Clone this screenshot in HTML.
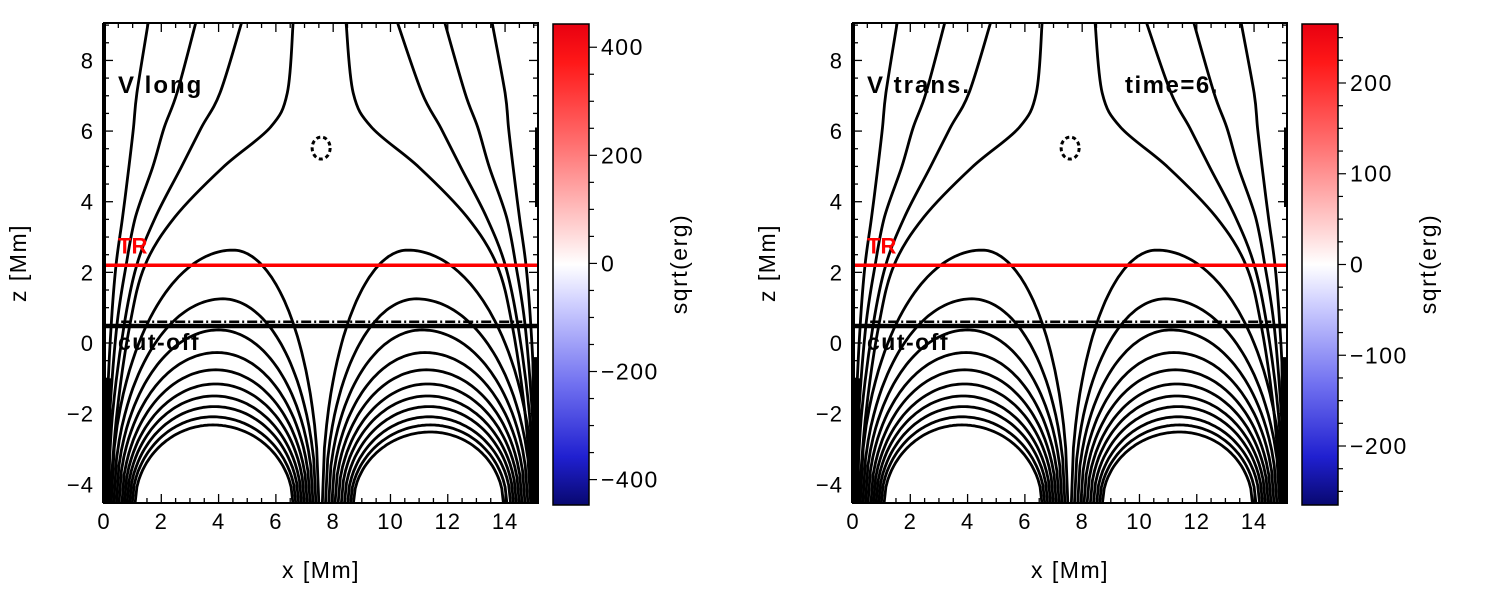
<!DOCTYPE html>
<html><head><meta charset="utf-8">
<style>
html,body{margin:0;padding:0;background:#fff;}
svg{display:block;font-family:"Liberation Sans",sans-serif;}
</style></head>
<body>
<svg id="fig" width="1500" height="600" viewBox="0 0 1500 600">
<defs>
<linearGradient id="cbgrad" x1="0" y1="0" x2="0" y2="1">
<stop offset="0" stop-color="#e80010"/><stop offset="0.08" stop-color="#ff1818"/>
<stop offset="0.25" stop-color="#ff7070"/><stop offset="0.42" stop-color="#ffd0d0"/>
<stop offset="0.5" stop-color="#ffffff"/><stop offset="0.58" stop-color="#d0d0ff"/>
<stop offset="0.75" stop-color="#7070f0"/><stop offset="0.9" stop-color="#2020d0"/>
<stop offset="1" stop-color="#080870"/>
</linearGradient>
</defs>
</svg>
<script>
// ---- data (data units: x [Mm], z [Mm]) ----
const xTicks = [0,2,4,6,8,10,12,14];
const zTicks = [-4,-2,0,2,4,6,8];
const trHeight = 2.2;
const cutoffHeight = 0.48;
const leftArchApex = [2.63,1.25,0.37,-0.27,-0.76,-1.16,-1.5,-1.8,-2.09,-2.32];
const leftArchPeakX = [4.5,4.15,4.0,3.95,3.9,3.9,3.85,3.85,3.8,3.8];
const leftArchFootL = [0.25,0.34,0.43,0.52,0.62,0.71,0.8,0.89,0.98,1.08];
const leftArchFootR = [7.5,7.4,7.3,7.2,7.1,7.0,6.9,6.8,6.7,6.6];
const rightArchApex = [2.63,1.25,0.37,-0.27,-0.76,-1.16,-1.5,-1.8,-2.09,-2.32,-2.52];
const rightArchPeakX = [10.6,10.9,11.1,11.2,11.25,11.3,11.3,11.35,11.35,11.4,11.4];
const rightArchFootL = [7.62,7.73,7.84,7.95,8.06,8.17,8.28,8.39,8.5,8.6,8.7];
const rightArchFootR = [15.0,14.9,14.8,14.7,14.6,14.5,14.4,14.3,14.2,14.07,13.95];
const openZ = [-4.53,-2,0.5,2.2,3.57,4.98,6.1,7.08,9.06];
const openLeft1 = [0.02,0.1,0.25,0.42,0.65,0.87,1.03,1.15,1.54];
const openLeft2 = [0.06,0.2,0.45,0.77,1.1,1.7,2.1,2.55,3.2];
const openLeft3 = [0.12,0.3,0.7,1.14,1.8,2.7,3.4,4.05,4.8];
const openLeft4 = [0.2,0.45,0.9,1.43,2.48,4.16,5.8,6.4,6.6];
const openRight1 = [15.13,15.05,14.9,14.73,14.5,14.28,14.12,14.0,13.55];
const openRight2 = [15.09,14.95,14.7,14.38,14.05,13.45,13.05,12.6,11.9];
const openRight3 = [15.03,14.85,14.45,14.01,13.35,12.45,11.75,11.1,10.25];
const openRight4 = [14.95,14.7,14.25,13.72,12.67,10.99,9.35,8.7,8.45];
const nullPoint = [7.58,5.52];
const cb1Ticks = [400,200,0,-200,-400];
const cb1Range = [-447,443];
const cb2Ticks = [200,100,0,-100,-200];
const cb2Range = [-265,265];

const NS = 'http://www.w3.org/2000/svg';
const svg = document.getElementById('fig');
function mk(tag, attrs, parent){const e=document.createElementNS(NS,tag);for(const k in attrs)e.setAttribute(k,attrs[k]);(parent||svg).appendChild(e);return e;}

const XMIN=0,XMAX=15.15,ZMIN=-4.53,ZMAX=9.06,TOP=23,BOT=503,W=434;

function catmull(pts){
  let d='M'+pts[0][0].toFixed(1)+','+pts[0][1].toFixed(1);
  for(let i=0;i<pts.length-1;i++){
    const p0=pts[Math.max(0,i-1)],p1=pts[i],p2=pts[i+1],p3=pts[Math.min(pts.length-1,i+2)];
    const c1=[p1[0]+(p2[0]-p0[0])/6,p1[1]+(p2[1]-p0[1])/6];
    const c2=[p2[0]-(p3[0]-p1[0])/6,p2[1]-(p3[1]-p1[1])/6];
    d+=' C'+c1[0].toFixed(1)+','+c1[1].toFixed(1)+' '+c2[0].toFixed(1)+','+c2[1].toFixed(1)+' '+p2[0].toFixed(1)+','+p2[1].toFixed(1);
  }
  return d;
}

function panel(idx, L, cbL, cbTicks, cbRange, minorStep, label, extra){
  const sx=x=>L+(x-XMIN)/(XMAX-XMIN)*W;
  const sz=z=>BOT-(z-ZMIN)/(ZMAX-ZMIN)*(BOT-TOP);
  const g=mk('g',{});
  
  
  const clipId='clip'+idx;
  const cp=mk('clipPath',{id:clipId},g);
  mk('rect',{x:L,y:TOP,width:W,height:BOT-TOP},cp);
  const lines=mk('g',{'clip-path':'url(#'+clipId+')',fill:'none',stroke:'#000','stroke-width':2.8},g);
  
  
  function arches(apex,peak,fl,fr,name){
    for(let i=0;i<apex.length;i++){
      const pts=[];const zb=ZMIN-0.05,h=apex[i];
      const N=40;
      for(let k=0;k<=N;k++){const u=1-k/N;const x=peak[i]-(peak[i]-fl[i])*u;pts.push([sx(x),sz(zb+(h-zb)*Math.sqrt(1-u*u))]);}
      for(let k=1;k<=N;k++){const u=k/N;const x=peak[i]+(fr[i]-peak[i])*u;pts.push([sx(x),sz(zb+(h-zb)*Math.sqrt(1-u*u))]);}
      const p=mk('polyline',{points:pts.map(q=>q[0].toFixed(1)+','+q[1].toFixed(1)).join(' ')},lines);
      
      
    }
  }
  arches(leftArchApex,leftArchPeakX,leftArchFootL,leftArchFootR,'left-arch');
  arches(rightArchApex,rightArchPeakX,rightArchFootL,rightArchFootR,'right-arch');
  const opens=[openLeft1,openLeft2,openLeft3,openLeft4,openRight1,openRight2,openRight3,openRight4];
  opens.forEach((arr,i)=>{
    const pts=arr.map((x,k)=>[sx(x),sz(openZ[k])]);
    const p=mk('path',{d:catmull(pts)},lines);
    
    
  });
  let e=mk('line',{x1:sx(0.1),y1:sz(ZMIN),x2:sx(0.15),y2:sz(-1),'stroke-width':7},lines);
  
  e=mk('line',{x1:sx(15.05),y1:sz(ZMIN),x2:sx(15.05),y2:sz(-0.4),'stroke-width':7},lines);
  
  e=mk('line',{x1:sx(XMAX)-1,y1:sz(6.1),x2:sx(XMAX)-1,y2:sz(3.85),stroke:'#000','stroke-width':4},g);
  
  e=mk('ellipse',{cx:sx(nullPoint[0]),cy:sz(nullPoint[1]),rx:9,ry:11,fill:'none',stroke:'#000','stroke-width':3,'stroke-dasharray':'4,3'},g);
  
  e=mk('line',{x1:sx(0.6),y1:sz(0.6),x2:sx(14.6),y2:sz(0.6),stroke:'#000','stroke-width':2.5,'stroke-dasharray':'10,3,2,3'},g);
  
  e=mk('line',{x1:L,y1:sz(trHeight),x2:L+W,y2:sz(trHeight),stroke:'#ff0000','stroke-width':3.5},g);
  
  e=mk('line',{x1:L,y1:sz(cutoffHeight),x2:L+W,y2:sz(cutoffHeight),stroke:'#000','stroke-width':4.5},g);
  
  e=mk('text',{x:L+14,y:sz(trHeight)-12,fill:'#ff0000','font-size':22,'font-weight':'bold'},g);e.textContent='TR';
  
  e=mk('text',{x:L+14,y:sz(cutoffHeight)+24,fill:'#000','font-size':23,'font-weight':'bold','letter-spacing':1.5},g);e.textContent='cut-off';
  
  e=mk('text',{x:L+14,y:93,fill:'#000','font-size':24,'font-weight':'bold','letter-spacing':2},g);e.textContent=label;
  
  if(extra){e=mk('text',{x:L+272,y:93,fill:'#000','font-size':24,'font-weight':'bold','letter-spacing':1.5},g);e.textContent=extra;
  }
  e=mk('rect',{x:L,y:TOP,width:W,height:BOT-TOP,fill:'none',stroke:'#000','stroke-width':2},g);
  
  e=mk('line',{x1:L,y1:TOP,x2:L,y2:BOT,stroke:'#000','stroke-width':4},g);
  const tk=mk('g',{stroke:'#000','stroke-width':1.3},g);
  
  for(let x=0;x<=XMAX+1e-6;x+=0.5){const major=Math.abs(x/2-Math.round(x/2))<1e-6;const len=major?9:5;
    mk('line',{x1:sx(x),y1:BOT,x2:sx(x),y2:BOT-len},tk);mk('line',{x1:sx(x),y1:TOP,x2:sx(x),y2:TOP+len},tk);}
  for(let z=-4.5;z<=ZMAX;z+=0.5){const major=Math.abs(z/2-Math.round(z/2))<1e-6;const len=major?9:5;
    mk('line',{x1:L,y1:sz(z),x2:L+len,y2:sz(z)},tk);mk('line',{x1:L+W,y1:sz(z),x2:L+W-len,y2:sz(z)},tk);}
  xTicks.forEach(v=>{const t=mk('text',{x:sx(v),y:529,'text-anchor':'middle','font-size':22,fill:'#000','letter-spacing':1},g);t.textContent=v;
    });
  zTicks.forEach(v=>{const t=mk('text',{x:L-10,y:sz(v)+8,'text-anchor':'end','font-size':22,fill:'#000','letter-spacing':1},g);t.textContent=(v<0?'\u2212'+(-v):v);
    });
  e=mk('text',{x:L+W/2,y:578,'text-anchor':'middle','font-size':23,fill:'#000','letter-spacing':1.5},g);e.textContent='x [Mm]';
  
  e=mk('text',{x:0,y:0,'text-anchor':'middle','font-size':23,fill:'#000','letter-spacing':1.5,transform:'translate('+(L-78)+',263) rotate(-90)'},g);e.textContent='z [Mm]';
  
  const cbT=24,cbB=505,cbW=36;
  const cy=v=>cbB-(v-cbRange[0])/(cbRange[1]-cbRange[0])*(cbB-cbT);
  e=mk('rect',{x:cbL,y:cbT,width:cbW,height:cbB-cbT,fill:'url(#cbgrad)',stroke:'#000','stroke-width':1.5},g);
  
  for(let v=Math.ceil(cbRange[0]/minorStep)*minorStep;v<=cbRange[1];v+=minorStep){
    const major=cbTicks.includes(v);
    mk('line',{x1:cbL+cbW,y1:cy(v),x2:cbL+cbW+(major?8:5),y2:cy(v),stroke:'#000','stroke-width':1.2},g);
  }
  cbTicks.forEach(v=>{const t=mk('text',{x:cbL+cbW+12,y:cy(v)+8,'font-size':23,fill:'#000','letter-spacing':1.5},g);t.textContent=(v<0?'\u2212'+(-v):v);
    });
  e=mk('text',{x:0,y:0,'text-anchor':'middle','font-size':23,fill:'#000','letter-spacing':1.5,transform:'translate('+(cbL+134)+',264) rotate(-90)'},g);e.textContent='sqrt(erg)';
  
}
panel(1,104,553,cb1Ticks,cb1Range,50,'V long',null);
panel(2,853,1302,cb2Ticks,cb2Range,25,'V trans.','time=6.');
</script>
</body></html>
